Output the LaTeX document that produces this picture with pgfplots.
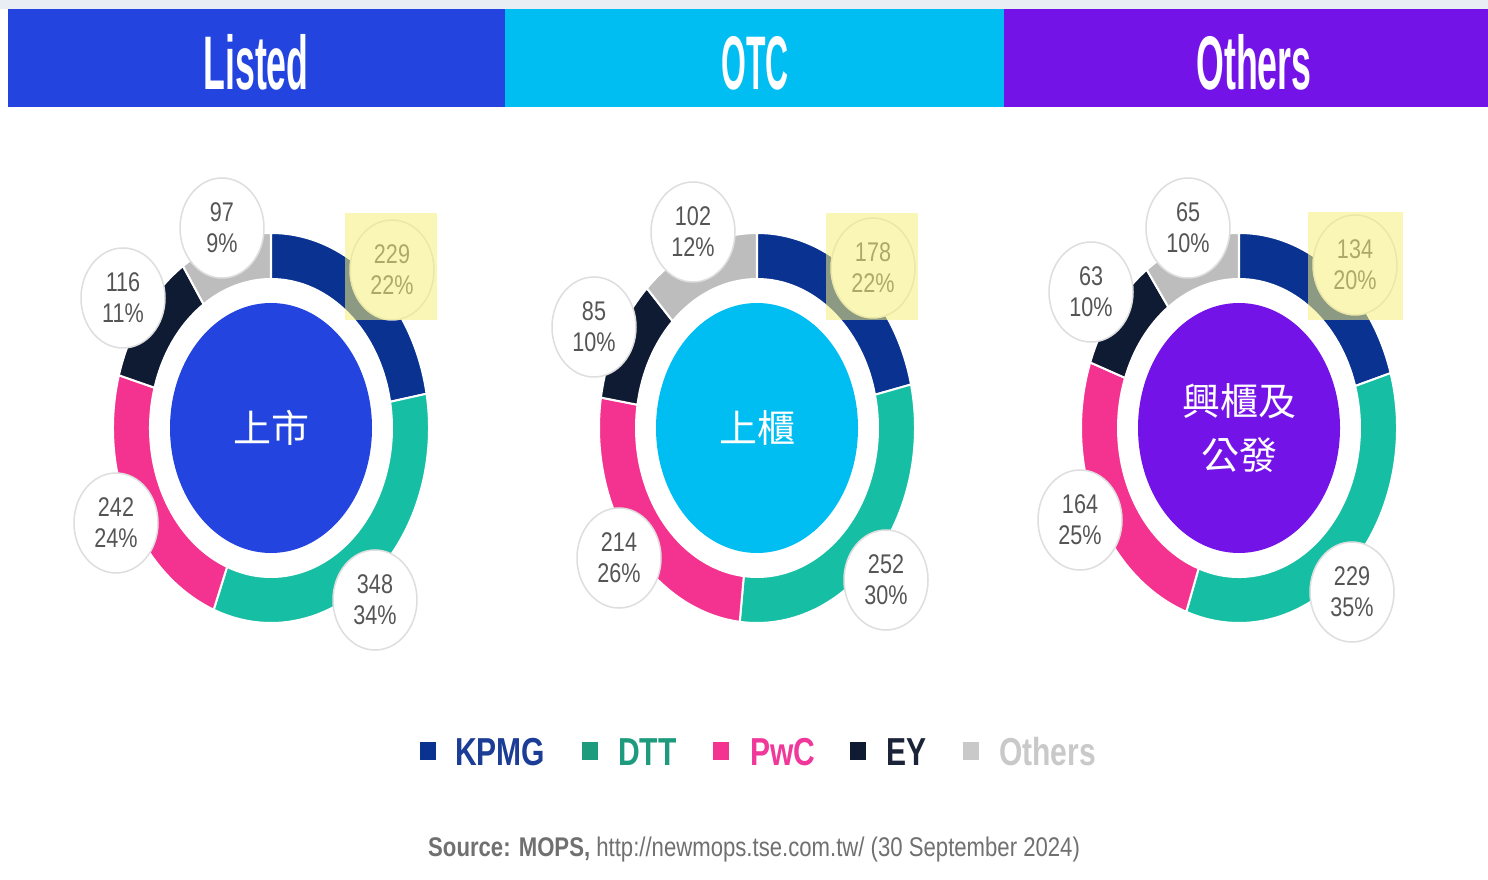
\documentclass[border=0pt]{standalone}
\usepackage{graphicx}
\usepackage{pgfplots}
\pgfplotsset{compat=1.18}
\usepackage{pgfplotstable}
\usetikzlibrary{calc}
\usepackage{fontspec}
\setmainfont{Liberation Sans}
\newfontfamily\cjk{Noto Sans CJK TC}

\definecolor{cKPMG}{HTML}{0A3291}
\definecolor{cDTT}{HTML}{16BFA4}
\definecolor{cPwC}{HTML}{F3338F}
\definecolor{cEY}{HTML}{0F1B33}
\definecolor{cOth}{HTML}{BDBDBD}
\definecolor{hBlue}{HTML}{2344DF}
\definecolor{hCyan}{HTML}{00BDF2}
\definecolor{hPurple}{HTML}{7413E8}
\definecolor{bubTxt}{HTML}{555555}
\definecolor{bubLine}{HTML}{DEDEDE}
\definecolor{hl}{HTML}{F7F07A}
\definecolor{lgKPMG}{HTML}{1C3D96}
\definecolor{lgDTT}{HTML}{1E9A7D}
\definecolor{lgPwC}{HTML}{F0389B}
\definecolor{lgEY}{HTML}{1B2339}
\definecolor{lgOth}{HTML}{C9C9C9}
\definecolor{srcTxt}{HTML}{707070}
\definecolor{topStrip}{HTML}{E9EEF4}

% count = number of clients, pct = share shown, bx/by = label bubble centre
\pgfplotstableread{
firm   count pct bx   by
KPMG   229   22  392  609
DTT    348   34  375  279
PwC    242   24  116  356
EY     116   11  123  581
Others 97    9   222  651
}\listed
\pgfplotstableread{
firm   count pct bx   by
KPMG   178   22  873  611
DTT    252   30  886  299
PwC    214   26  619  321
EY     85    10  594  552
Others 102   12  693  647
}\otc
\pgfplotstableread{
firm   count pct bx    by
KPMG   134   20  1355  614
DTT    229   35  1352  287
PwC    164   25  1080  359
EY     63    10  1091  587
Others 65    10  1188  651
}\others

\newcommand\bsc[1]{\scalebox{0.8}[1]{#1}}

\newcommand\donut[4]{%
 \pgfplotsextra{%
  \xdef\tot{0}%
  \foreach \i in {0,...,4}{%
    \pgfplotstablegetelem{\i}{count}\of{#1}%
    \pgfmathsetmacro\tmpT{\tot+\pgfplotsretval}\xdef\tot{\tmpT}}%
  \xdef\ang{90}%
  \coordinate (C) at (axis cs:#2,#3);
  \foreach \i/\col in {0/cKPMG,1/cDTT,2/cPwC,3/cEY,4/cOth}{%
    \pgfplotstablegetelem{\i}{count}\of{#1}%
    \pgfmathsetmacro\angB{\ang-(\pgfplotsretval/\tot)*360}%
    \fill[\col,draw=white,line width=2pt]
      ($(C)+(\ang:158pt and 195pt)$)
      arc[start angle=\ang,end angle=\angB,x radius=158pt,y radius=195pt]
      -- ($(C)+(\angB:121pt and 149pt)$)
      arc[start angle=\angB,end angle=\ang,x radius=121pt,y radius=149pt]
      -- cycle;
    \xdef\ang{\angB}}%
  \fill[#4] (C) ellipse[x radius=101pt,y radius=125pt];
  \foreach \i in {0,...,4}{%
    \pgfplotstablegetelem{\i}{bx}\of{#1}\let\bx\pgfplotsretval
    \pgfplotstablegetelem{\i}{by}\of{#1}\let\by\pgfplotsretval
    \pgfplotstablegetelem{\i}{count}\of{#1}\let\cnt\pgfplotsretval
    \pgfplotstablegetelem{\i}{pct}\of{#1}\let\pc\pgfplotsretval
    \draw[fill=white,draw=bubLine,line width=1.5pt]
      (axis cs:\bx,\by) ellipse[x radius=42pt,y radius=50pt];
    \node[text=bubTxt,align=center,inner sep=0pt,
      font=\fontsize{27}{31}\selectfont] at (axis cs:\bx,\by)
      {\bsc{\cnt}\\\bsc{\pc\%}};
  }%
 }%
}

\begin{document}
\begin{tikzpicture}
\begin{axis}[x=1pt,y=1pt,xmin=0,xmax=1488,ymin=0,ymax=879,
  hide axis,clip=false]
\addplot[draw=none] coordinates {(0,0) (1488,879)};
% background and header bands
\fill[white] (axis cs:0,0) rectangle (axis cs:1488,879);
\fill[topStrip] (axis cs:0,870) rectangle (axis cs:1488,879);
\fill[hBlue] (axis cs:8,772) rectangle (axis cs:505,870);
\fill[hCyan] (axis cs:505,772) rectangle (axis cs:1004,870);
\fill[hPurple] (axis cs:1004,772) rectangle (axis cs:1488,870);
\node[anchor=base,text=white,font=\fontsize{76}{76}\selectfont\bfseries]
  at (axis cs:256,789) {\scalebox{0.47}[1]{Listed}};
\node[anchor=base,text=white,font=\fontsize{76}{76}\selectfont\bfseries]
  at (axis cs:755,789) {\scalebox{0.42}[1]{OTC}};
\node[anchor=base,text=white,font=\fontsize{76}{76}\selectfont\bfseries]
  at (axis cs:1254,789) {\scalebox{0.47}[1]{Others}};

\donut{\listed}{271}{451}{hBlue}
\donut{\otc}{757}{451}{hCyan}
\donut{\others}{1239}{451}{hPurple}

% centre labels
\node[text=white,font=\cjk\fontsize{38}{46}\selectfont] at (axis cs:271,451) {上市};
\node[text=white,font=\cjk\fontsize{38}{46}\selectfont] at (axis cs:757,451) {上櫃};
\node[text=white,align=center,font=\cjk\fontsize{38}{54}\selectfont] at (axis cs:1239,451) {興櫃及\\公發};

% highlight boxes
\fill[hl,fill opacity=0.55] (axis cs:345,559) rectangle (axis cs:437,666);
\fill[hl,fill opacity=0.55] (axis cs:826,559) rectangle (axis cs:918,666);
\fill[hl,fill opacity=0.55] (axis cs:1308,559) rectangle (axis cs:1403,667);

% legend
\fill[cKPMG] (axis cs:420,119) rectangle (axis cs:436,137);
\node[anchor=base west,inner sep=0pt,text=lgKPMG,font=\fontsize{39}{39}\selectfont\bfseries] at (axis cs:455,114) {\scalebox{0.77}[1]{KPMG}};
\fill[lgDTT] (axis cs:582,119) rectangle (axis cs:598,137);
\node[anchor=base west,inner sep=0pt,text=lgDTT,font=\fontsize{39}{39}\selectfont\bfseries] at (axis cs:618,114) {\scalebox{0.77}[1]{DTT}};
\fill[cPwC] (axis cs:713,119) rectangle (axis cs:729,137);
\node[anchor=base west,inner sep=0pt,text=lgPwC,font=\fontsize{39}{39}\selectfont\bfseries] at (axis cs:750,114) {\scalebox{0.77}[1]{PwC}};
\fill[cEY] (axis cs:850,119) rectangle (axis cs:866,137);
\node[anchor=base west,inner sep=0pt,text=lgEY,font=\fontsize{39}{39}\selectfont\bfseries] at (axis cs:886,114) {\scalebox{0.77}[1]{EY}};
\fill[lgOth] (axis cs:963,119) rectangle (axis cs:979,137);
\node[anchor=base west,inner sep=0pt,text=lgOth,font=\fontsize{39}{39}\selectfont\bfseries] at (axis cs:999,114) {\scalebox{0.77}[1]{Others}};

% source
\node[anchor=base west,inner sep=0pt,text=srcTxt,font=\fontsize{27}{27}\selectfont] at (axis cs:428,23)
  {\scalebox{0.82}[1]{\textbf{Source: MOPS,} http://newmops.tse.com.tw/ (30 September 2024)}};
\end{axis}
\end{tikzpicture}
\end{document}
